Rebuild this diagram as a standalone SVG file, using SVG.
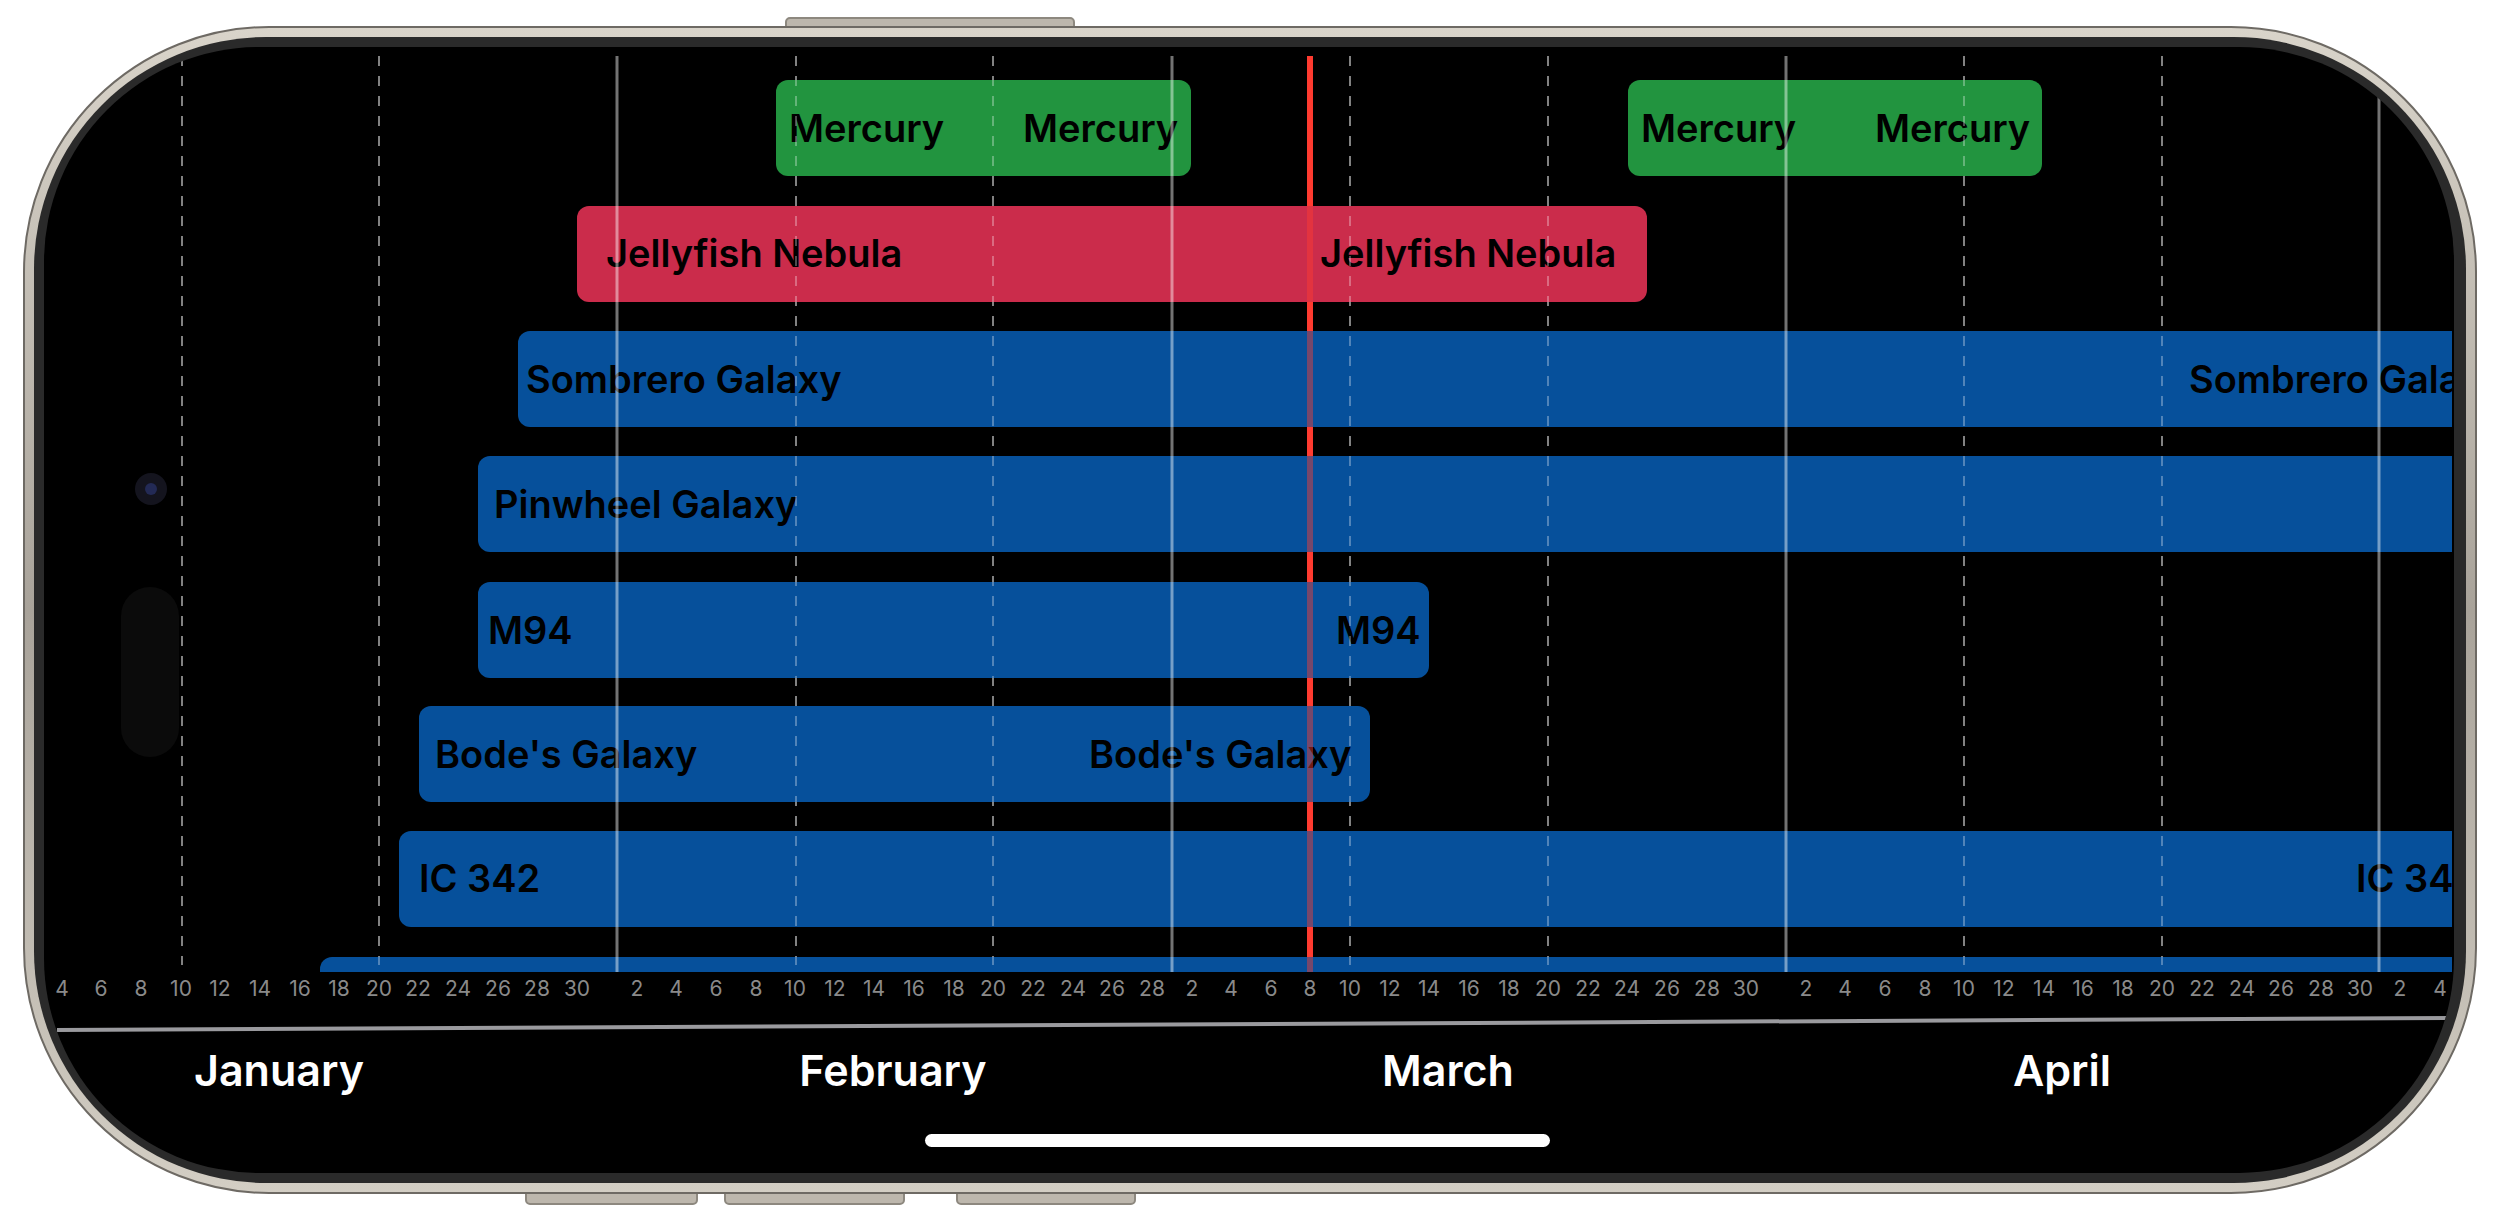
<svg xmlns="http://www.w3.org/2000/svg" width="2500" height="1223" viewBox="0 0 2500 1223">
<defs>
<linearGradient id="ti" x1="0" y1="0" x2="0" y2="1">
<stop offset="0" stop-color="#d9d4ca"/><stop offset="0.5" stop-color="#a9a39a"/><stop offset="1" stop-color="#d3cec4"/>
</linearGradient>
<clipPath id="scr"><rect x="44" y="47" width="2410" height="1126" rx="215"/></clipPath>
<clipPath id="plot"><rect x="44" y="47" width="2408" height="925"/></clipPath>
<style>
.bar-b{fill:#06509b}.bar-g{fill:#22943f}.bar-r{fill:#cb2c4b}
.lbl{font-family:"Inter","Liberation Sans",sans-serif;font-weight:600;font-size:38px;fill:#000}
.tick{font-family:"Inter","Liberation Sans",sans-serif;font-size:21px;fill:#8a8a8a;text-anchor:middle}
.month{font-family:"Inter","Liberation Sans",sans-serif;font-weight:600;font-size:43px;fill:#fff;text-anchor:middle}
.solid{stroke:#fff;stroke-opacity:0.45;stroke-width:3}
.dash{stroke:#fff;stroke-opacity:0.3;stroke-width:2;stroke-dasharray:10 10}
</style>
</defs>
<rect width="2500" height="1223" fill="#fff"/>
<g fill="#bdb7ad" stroke="#8d887f" stroke-width="2">
<rect x="786" y="18" width="288" height="16" rx="4"/>
<rect x="526" y="1186" width="171" height="18" rx="4"/>
<rect x="725" y="1186" width="179" height="18" rx="4"/>
<rect x="957" y="1186" width="178" height="18" rx="4"/>
</g>
<rect x="24" y="27" width="2452" height="1166" rx="245" fill="url(#ti)" stroke="#6e6a64" stroke-width="2"/>
<rect x="34" y="37" width="2432" height="1146" rx="232" fill="#2a2a2a"/>
<rect x="44" y="47" width="2410" height="1126" rx="215" fill="#000"/>
<g clip-path="url(#scr)">
<g id="grid" clip-path="url(#plot)">
<line class="dash" x1="182" y1="56" x2="182" y2="965"/>
<line class="dash" x1="379" y1="56" x2="379" y2="965"/>
<line class="dash" x1="796" y1="56" x2="796" y2="965"/>
<line class="dash" x1="993" y1="56" x2="993" y2="965"/>
<line class="dash" x1="1350" y1="56" x2="1350" y2="965"/>
<line class="dash" x1="1548" y1="56" x2="1548" y2="965"/>
<line class="dash" x1="1964" y1="56" x2="1964" y2="965"/>
<line class="dash" x1="2162" y1="56" x2="2162" y2="965"/>
<line x1="1310" y1="56" x2="1310" y2="972" stroke="#ff3b30" stroke-width="6"/>
</g>
<g clip-path="url(#plot)">
<g id="mercury1"><rect class="bar-g" x="776" y="80" width="415" height="96" rx="12"/><text class="lbl" x="789" y="142">Mercury</text><text class="lbl" x="1023" y="142">Mercury</text></g>
<g id="mercury2"><rect class="bar-g" x="1628" y="80" width="414" height="96" rx="12"/><text class="lbl" x="1641" y="142">Mercury</text><text class="lbl" x="1875" y="142">Mercury</text></g>
<g id="jellyfish"><rect class="bar-r" x="577" y="206" width="1070" height="96" rx="12"/><text class="lbl" x="606" y="267">Jellyfish Nebula</text><text class="lbl" x="1320" y="267">Jellyfish Nebula</text></g>
<g id="sombrero"><rect class="bar-b" x="518" y="331" width="2000" height="96" rx="12"/><text class="lbl" x="526" y="393">Sombrero Galaxy</text><text class="lbl" x="2189" y="393">Sombrero Galaxy</text></g>
<g id="pinwheel"><rect class="bar-b" x="478" y="456" width="2040" height="96" rx="12"/><text class="lbl" x="494" y="518">Pinwheel Galaxy</text></g>
<g id="m94"><rect class="bar-b" x="478" y="582" width="951" height="96" rx="12"/><text class="lbl" x="488" y="644">M94</text><text class="lbl" x="1336" y="644">M94</text></g>
<g id="bode"><rect class="bar-b" x="419" y="706" width="951" height="96" rx="12"/><text class="lbl" x="435" y="768">Bode's Galaxy</text><text class="lbl" x="1089" y="768">Bode's Galaxy</text></g>
<g id="ic342"><rect class="bar-b" x="399" y="831" width="2119" height="96" rx="12"/><text class="lbl" x="419" y="892">IC 342</text><text class="lbl" x="2356" y="892">IC 342</text></g>
<g id="lastbar"><rect class="bar-b" x="320" y="957" width="2200" height="96" rx="12"/></g>
</g>
<g id="overlay" clip-path="url(#plot)">
<line class="solid" x1="617" y1="56" x2="617" y2="972"/>
<line class="solid" x1="1172" y1="56" x2="1172" y2="972"/>
<line class="solid" x1="1786" y1="56" x2="1786" y2="972"/>
<line class="solid" x1="2379" y1="90" x2="2379" y2="972"/>
<line class="dash" x1="182" y1="56" x2="182" y2="965"/>
<line class="dash" x1="379" y1="56" x2="379" y2="965"/>
<line class="dash" x1="796" y1="56" x2="796" y2="965"/>
<line class="dash" x1="993" y1="56" x2="993" y2="965"/>
<line class="dash" x1="1350" y1="56" x2="1350" y2="965"/>
<line class="dash" x1="1548" y1="56" x2="1548" y2="965"/>
<line class="dash" x1="1964" y1="56" x2="1964" y2="965"/>
<line class="dash" x1="2162" y1="56" x2="2162" y2="965"/>
<line x1="1310" y1="56" x2="1310" y2="972" stroke="#ff3b30" stroke-opacity="0.45" stroke-width="6"/>
</g>
<g id="ticks">
<text class="tick" x="62" y="996">4</text><text class="tick" x="101" y="996">6</text><text class="tick" x="141" y="996">8</text><text class="tick" x="181" y="996">10</text><text class="tick" x="220" y="996">12</text><text class="tick" x="260" y="996">14</text><text class="tick" x="300" y="996">16</text><text class="tick" x="339" y="996">18</text><text class="tick" x="379" y="996">20</text><text class="tick" x="418" y="996">22</text><text class="tick" x="458" y="996">24</text><text class="tick" x="498" y="996">26</text><text class="tick" x="537" y="996">28</text><text class="tick" x="577" y="996">30</text>
<text class="tick" x="637" y="996">2</text><text class="tick" x="676" y="996">4</text><text class="tick" x="716" y="996">6</text><text class="tick" x="756" y="996">8</text><text class="tick" x="795" y="996">10</text><text class="tick" x="835" y="996">12</text><text class="tick" x="874" y="996">14</text><text class="tick" x="914" y="996">16</text><text class="tick" x="954" y="996">18</text><text class="tick" x="993" y="996">20</text><text class="tick" x="1033" y="996">22</text><text class="tick" x="1073" y="996">24</text><text class="tick" x="1112" y="996">26</text><text class="tick" x="1152" y="996">28</text>
<text class="tick" x="1192" y="996">2</text><text class="tick" x="1231" y="996">4</text><text class="tick" x="1271" y="996">6</text><text class="tick" x="1310" y="996">8</text><text class="tick" x="1350" y="996">10</text><text class="tick" x="1390" y="996">12</text><text class="tick" x="1429" y="996">14</text><text class="tick" x="1469" y="996">16</text><text class="tick" x="1509" y="996">18</text><text class="tick" x="1548" y="996">20</text><text class="tick" x="1588" y="996">22</text><text class="tick" x="1627" y="996">24</text><text class="tick" x="1667" y="996">26</text><text class="tick" x="1707" y="996">28</text><text class="tick" x="1746" y="996">30</text>
<text class="tick" x="1806" y="996">2</text><text class="tick" x="1845" y="996">4</text><text class="tick" x="1885" y="996">6</text><text class="tick" x="1925" y="996">8</text><text class="tick" x="1964" y="996">10</text><text class="tick" x="2004" y="996">12</text><text class="tick" x="2044" y="996">14</text><text class="tick" x="2083" y="996">16</text><text class="tick" x="2123" y="996">18</text><text class="tick" x="2162" y="996">20</text><text class="tick" x="2202" y="996">22</text><text class="tick" x="2242" y="996">24</text><text class="tick" x="2281" y="996">26</text><text class="tick" x="2321" y="996">28</text><text class="tick" x="2360" y="996">30</text>
<text class="tick" x="2400" y="996">2</text><text class="tick" x="2440" y="996">4</text>
</g>
<line x1="57" y1="1030" x2="2452" y2="1018" stroke="#9a9a9e" stroke-width="4"/>
<g id="months">
<text class="month" x="279" y="1086">January</text>
<text class="month" x="893" y="1086">February</text>
<text class="month" x="1448" y="1086">March</text>
<text class="month" x="2062" y="1086">April</text>
</g>
<rect x="925" y="1134" width="625" height="13" rx="6.5" fill="#fff"/>
<circle cx="151" cy="489" r="16" fill="#14141e"/><circle cx="151" cy="489" r="6" fill="#232a55"/>
<rect x="121" y="587" width="58" height="170" rx="29" fill="#0b0b0b"/>
</g>
</svg>
